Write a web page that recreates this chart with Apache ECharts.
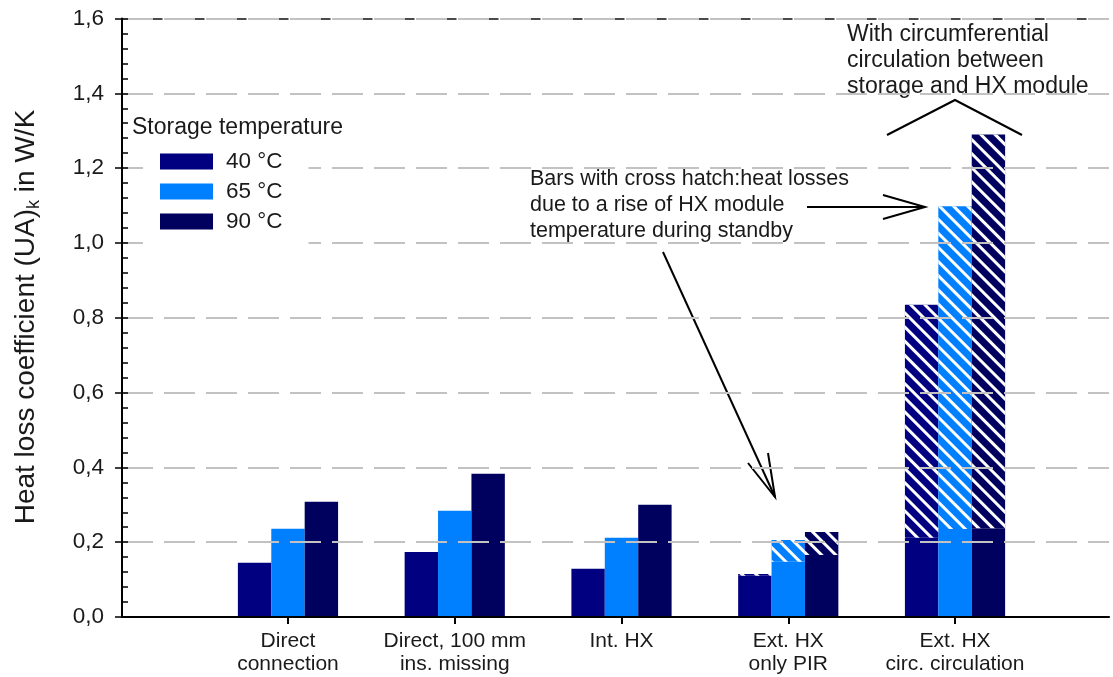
<!DOCTYPE html>
<html><head><meta charset="utf-8">
<script src="https://cdn.jsdelivr.net/npm/echarts@6/dist/echarts.min.js"></script>
<style>html,body{margin:0;padding:0;background:#fff}#c{width:1113px;height:677px}</style>
</head><body><div id="c"></div>
<script>
const categories = ['Direct\nconnection', 'Direct, 100 mm\nins. missing', 'Int. HX', 'Ext. HX\nonly PIR', 'Ext. HX\ncirc. circulation'];
const temps = ['40 °C', '65 °C', '90 °C'];
const colors = ['#000080', '#0080ff', '#00005f'];
// solid part (heat loss without HX module temperature rise)
const base40 = [0.145, 0.174, 0.129, 0.110, 0.212];
const base65 = [0.236, 0.284, 0.212, 0.148, 0.235];
const base90 = [0.308, 0.383, 0.300, 0.166, 0.237];
// cross-hatched part (added on top)
const hatch40 = ['-', '-', '-', 0.005, 0.623];
const hatch65 = ['-', '-', '-', 0.058, 0.863];
const hatch90 = ['-', '-', '-', 0.061, 1.053];
const yTicks = [0, 0.2, 0.4, 0.6, 0.8, 1.0, 1.2, 1.4, 1.6];

const FONT = 'Liberation Sans, Arial, sans-serif';
const TXT = '#1a1a1a';
const bases = [base40, base65, base90];
const hatches = [hatch40, hatch65, hatch90];
const keys = ['t40', 't65', 't90'];

const series = [];
for (let i = 0; i < 3; i++) {
  series.push({
    name: temps[i], type: 'bar', xAxisIndex: 1, yAxisIndex: 2, stack: keys[i],
    data: bases[i], barWidth: 33.4, barGap: '0%',
    itemStyle: { color: colors[i] }
  });
}
for (let i = 0; i < 3; i++) {
  series.push({
    name: temps[i] + ' hatch', type: 'bar', xAxisIndex: 1, yAxisIndex: 2, stack: keys[i],
    data: hatches[i], barWidth: 33.4, barGap: '0%',
    itemStyle: {
      color: colors[i],
      decal: { symbol: 'rect', color: '#ffffff', dashArrayX: [1, 0], dashArrayY: [2.4, 6.6], rotation: Math.PI / 4, symbolSize: 1 }
    }
  });
}

const gTop = 18.5, gBottom = 60;
const option = {
  animation: false,
  backgroundColor: '#fff',
  textStyle: { fontFamily: FONT },
  grid: [
    { left: 122, right: 4, top: gTop, bottom: gBottom },
    { left: 204.6, right: 74.6, top: gTop, bottom: gBottom }
  ],
  title: {
    text: 'Storage temperature', left: 127, top: 111, z: 10,
    textStyle: { fontFamily: FONT, fontSize: 23, fontWeight: 'normal', color: TXT }
  },
  legend: {
    data: temps, orient: 'vertical', left: 143, top: 145, z: 9,
    backgroundColor: '#ffffff',
    padding: [5, 26, 16, 17],
    itemWidth: 53, itemHeight: 16, itemGap: 7, icon: 'rect',
    textStyle: { fontFamily: FONT, fontSize: 22.5, color: TXT, padding: [0, 0, 0, 8] }
  },
  xAxis: [
    { gridIndex: 0, type: 'value', min: 0, max: 1, z: 5,
      axisLine: { show: true, lineStyle: { color: '#000', width: 2 } },
      axisTick: { show: false }, axisLabel: { show: false }, splitLine: { show: false } },
    { gridIndex: 1, type: 'category', data: categories,
      axisLine: { show: false },
      axisTick: { show: true, alignWithLabel: true, length: 7, lineStyle: { color: '#000', width: 2 } },
      axisLabel: { fontFamily: FONT, fontSize: 21, color: TXT, lineHeight: 23, margin: 13, interval: 0 },
      splitLine: { show: false } },
    { gridIndex: 0, type: 'value', min: 0, max: 1, position: 'top',
      axisLine: { show: true, lineStyle: { color: '#b4b4b4', width: 2 } },
      axisTick: { show: false }, axisLabel: { show: false }, splitLine: { show: false } },
    { gridIndex: 0, type: 'value', min: 0, max: 1, position: 'top', z: 3,
      axisLine: { show: true, lineStyle: { color: '#111', width: 1.5, type: [10, 32], dashOffset: -30 } },
      axisTick: { show: false }, axisLabel: { show: false }, splitLine: { show: false } }
  ],
  yAxis: [
    { gridIndex: 0, type: 'value', min: 0, max: 1.6, interval: 0.2, z: 5,
      axisLine: { show: true, lineStyle: { color: '#000', width: 2 } },
      axisTick: { show: true, inside: false, length: 7, lineStyle: { color: '#000', width: 1.5 } },
      axisLabel: { fontFamily: FONT, fontSize: 22.5, color: TXT, margin: 18,
        formatter: v => v.toFixed(1).replace('.', ',') },
      splitLine: { show: true, lineStyle: { color: '#c2c2c2', width: 2, type: [31, 11] } } },
    { gridIndex: 0, type: 'value', min: 0, max: 1.6, interval: 0.2, position: 'left', z: 5,
      axisLine: { show: false },
      axisTick: { show: true, inside: true, length: 6, lineStyle: { color: '#000', width: 1.5 } },
      minorTick: { show: true, splitNumber: 5, length: 6, lineStyle: { color: '#000', width: 1.5 } },
      axisLabel: { show: false }, splitLine: { show: false } },
    { gridIndex: 1, type: 'value', min: 0, max: 1.6, interval: 0.2, show: false }
  ],
  series: series,
  graphic: [
    { type: 'text', x: 26, y: 317, rotation: Math.PI / 2,
      style: { text: 'Heat loss coefficient (UA){s|k} in W/K', fontFamily: FONT, fontSize: 28, fill: TXT,
        align: 'center', verticalAlign: 'middle', lineHeight: 34,
        rich: { s: { fontSize: 18, fontFamily: FONT, fill: TXT, verticalAlign: 'bottom', lineHeight: 18, padding: [12, 0, 0, 0] } } } },
    { type: 'text', x: 530, y: 166,
      style: { text: 'Bars with cross hatch:heat losses\ndue to a rise of HX module\ntemperature during standby',
        fontFamily: FONT, fontSize: 21.5, fill: TXT, lineHeight: 26 } },
    { type: 'text', x: 847, y: 22,
      style: { text: 'With circumferential\ncirculation between\nstorage and HX module',
        fontFamily: FONT, fontSize: 23, fill: TXT, lineHeight: 26 } },
    { type: 'polyline', shape: { points: [[887, 135], [955, 100], [1022, 135]] }, style: { stroke: '#000', lineWidth: 2, fill: null } },
    { type: 'line', shape: { x1: 807, y1: 207, x2: 925, y2: 207 }, style: { stroke: '#000', lineWidth: 2 } },
    { type: 'polyline', shape: { points: [[883, 195], [925, 207], [883, 219]] }, style: { stroke: '#000', lineWidth: 2, fill: null } },
    { type: 'line', shape: { x1: 663, y1: 252, x2: 775, y2: 497 }, style: { stroke: '#000', lineWidth: 2 } },
    { type: 'polyline', shape: { points: [[748, 463], [775, 497], [768, 453]] }, style: { stroke: '#000', lineWidth: 2, fill: null } }
  ]
};
const chart = echarts.init(document.getElementById('c'), null, { renderer: 'canvas' });
chart.setOption(option);
</script></body></html>
